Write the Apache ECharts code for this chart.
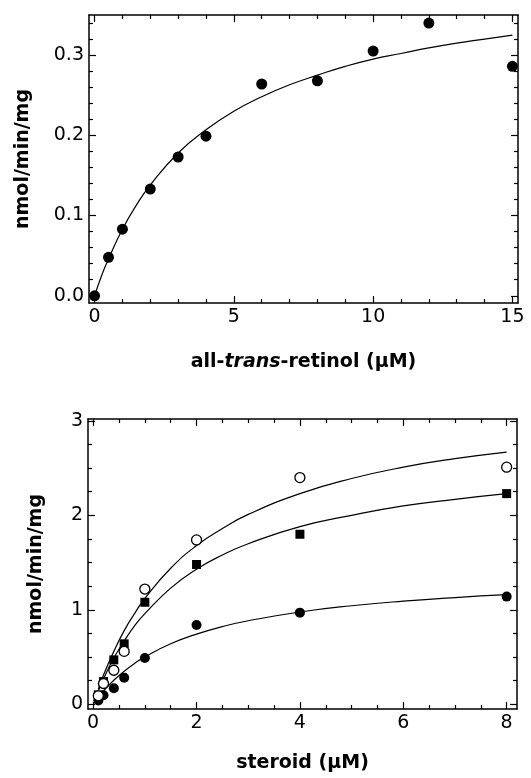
<!DOCTYPE html>
<html>

<head>
  <meta charset="utf-8" />
  <title></title>
  <script src="https://cdn.jsdelivr.net/npm/echarts@6/dist/echarts.min.js"></script>
  <style>
    body { margin: 0; background: #fff; }
  </style>
</head>

<body>
  <div id="main" style="width: 531px;height:778px;"></div>
  <script type="text/javascript">
    // top panel: all-trans-retinol
    var retinolX = [0, 0.5, 1, 2, 3, 4, 6, 8, 10, 12, 15];
    var retinolY = [0.0, 0.048, 0.083, 0.133, 0.173, 0.199, 0.264, 0.268, 0.305, 0.340, 0.286];
    var retinolFitX = [0, 0.25, 0.5, 1, 1.5, 2, 3, 4, 5, 6, 7, 8, 9, 10, 11, 12, 13, 14, 15];
    var retinolFitY = [0, 0.025, 0.046, 0.083, 0.113, 0.138, 0.178, 0.207, 0.230, 0.248, 0.263, 0.275, 0.286, 0.295, 0.302, 0.309, 0.315, 0.320, 0.325];

    // bottom panel: steroid
    var steroidX = [0.1, 0.2, 0.4, 0.6, 1, 2, 4, 8];
    var openCircleY = [0.09, 0.22, 0.36, 0.56, 1.22, 1.74, 2.40, 2.51];
    var squareY = [0.10, 0.24, 0.47, 0.64, 1.08, 1.48, 1.80, 2.23];
    var filledCircleY = [0.04, 0.095, 0.17, 0.28, 0.49, 0.84, 0.97, 1.14];
    var steroidFitX = [0.1, 0.2, 0.4, 0.6, 0.8, 1, 1.5, 2, 2.5, 3, 4, 5, 6, 7, 8];
    var openFitY = [0.16, 0.31, 0.56, 0.78, 0.96, 1.12, 1.44, 1.68, 1.86, 2.01, 2.23, 2.39, 2.51, 2.60, 2.67];
    var squareFitY = [0.14, 0.27, 0.49, 0.67, 0.83, 0.96, 1.23, 1.43, 1.58, 1.70, 1.88, 2.00, 2.10, 2.17, 2.23];
    var filledFitY = [0.073, 0.14, 0.254, 0.35, 0.432, 0.502, 0.64, 0.743, 0.822, 0.884, 0.977, 1.043, 1.092, 1.13, 1.16];

    // tick values
    var topMajorX = [0, 5, 10, 15];
    var topMinorX = [1, 2, 3, 4, 6, 7, 8, 9, 11, 12, 13, 14];
    var topMajorY = [0, 0.1, 0.2, 0.3];
    var topMinorY = [0.02, 0.04, 0.06, 0.08, 0.12, 0.14, 0.16, 0.18, 0.22, 0.24, 0.26, 0.28, 0.32, 0.34];
    var botMajorX = [0, 2, 4, 6, 8];
    var botMinorX = [0.5, 1, 1.5, 2.5, 3, 3.5, 4.5, 5, 5.5, 6.5, 7, 7.5];
    var botMajorY = [0, 1, 2, 3];
    var botMinorY = [0.25, 0.5, 0.75, 1.25, 1.5, 1.75, 2.25, 2.5, 2.75];

    var font = 'DejaVu Sans';

    function pair(list) {
      return list[0].map(function (x, i) { return [x, list[1][i]]; });
    }

    // one side of the frame: major ticks (+ labels on the main side) and minor ticks
    function sideAxes(grid, pos, min, max, major, minor, main, fmt, extra) {
      var base = {
        type: 'value', gridIndex: grid, position: pos, min: min, max: max,
        splitLine: { show: false }
      };
      var majorAxis = Object.assign({}, base, {
        axisLine: { show: true, onZero: false, lineStyle: { color: '#000', width: 1.5 } },
        axisTick: { show: true, inside: true, length: 7, customValues: major, lineStyle: { color: '#000', width: 1.2 } },
        axisLabel: {
          show: main, customValues: major, formatter: fmt, margin: 5,
          color: '#000', fontFamily: font, fontSize: 19
        }
      }, main ? extra : {});
      var minorAxis = Object.assign({}, base, {
        axisLine: { show: false, onZero: false },
        axisTick: { show: true, inside: true, length: 4, customValues: minor, lineStyle: { color: '#000', width: 1.2 } },
        axisLabel: { show: false }
      });
      return [majorAxis, minorAxis];
    }

    var nameStyle = {
      color: '#000', fontFamily: font, fontSize: 19, fontWeight: 'bold',
      rich: { i: { color: '#000', fontFamily: font, fontSize: 19, fontWeight: 'bold', fontStyle: 'italic' } }
    };

    var fmt1 = function (v) { return v.toFixed(1); };
    var fmt0 = function (v) { return String(v); };

    var xAxes = [].concat(
      sideAxes(0, 'bottom', -0.2, 15.2, topMajorX, topMinorX, true, fmt0,
        { name: 'all-{i|trans}-retinol (μM)', nameLocation: 'middle', nameGap: 50, nameTextStyle: nameStyle }),
      sideAxes(0, 'top', -0.2, 15.2, topMajorX, topMinorX, false, fmt0),
      sideAxes(1, 'bottom', -0.1, 8.2, botMajorX, botMinorX, true, fmt0,
        { name: 'steroid (μM)', nameLocation: 'middle', nameGap: 45, nameTextStyle: nameStyle }),
      sideAxes(1, 'top', -0.1, 8.2, botMajorX, botMinorX, false, fmt0)
    );
    var yAxes = [].concat(
      sideAxes(0, 'left', -0.009, 0.35, topMajorY, topMinorY, true, fmt1,
        { name: 'nmol/min/mg', nameLocation: 'middle', nameGap: 56, nameTextStyle: nameStyle }),
      sideAxes(0, 'right', -0.009, 0.35, topMajorY, topMinorY, false, fmt1),
      sideAxes(1, 'left', -0.05, 3.02, botMajorY, botMinorY, true, fmt0,
        { name: 'nmol/min/mg', nameLocation: 'middle', nameGap: 42, nameTextStyle: nameStyle }),
      sideAxes(1, 'right', -0.05, 3.02, botMajorY, botMinorY, false, fmt0)
    );

    var lineStyle = { color: '#000', width: 1.2 };
    function fitLine(xi, yi, data) {
      return {
        type: 'line', xAxisIndex: xi, yAxisIndex: yi, data: data, smooth: true,
        showSymbol: false, lineStyle: lineStyle, silent: true, z: 1
      };
    }
    function dots(xi, yi, data, symbol, size, open) {
      return {
        type: 'scatter', xAxisIndex: xi, yAxisIndex: yi, data: data, symbol: symbol,
        symbolSize: size, clip: false, z: 3,
        itemStyle: open
          ? { color: '#fff', borderColor: '#000', borderWidth: 1.3, opacity: 1 }
          : { color: '#000', opacity: 1 }
      };
    }

    var chart = echarts.init(document.getElementById('main'));
    var option = {
      animation: false,
      backgroundColor: '#fff',
      grid: [
        { left: 89, top: 15, width: 429, height: 288 },
        { left: 88, top: 419, width: 429, height: 290 }
      ],
      xAxis: xAxes,
      yAxis: yAxes,
      series: [
        fitLine(0, 0, pair([retinolFitX, retinolFitY])),
        dots(0, 0, pair([retinolX, retinolY]), 'circle', 11, false),
        fitLine(4, 4, pair([steroidFitX, openFitY])),
        fitLine(4, 4, pair([steroidFitX, squareFitY])),
        fitLine(4, 4, pair([steroidFitX, filledFitY])),
        dots(4, 4, pair([steroidX, filledCircleY]), 'circle', 10, false),
        dots(4, 4, pair([steroidX, squareY]), 'rect', 9, false),
        dots(4, 4, pair([steroidX, openCircleY]), 'circle', 10, true)
      ]
    };
    chart.setOption(option);

    window.onresize = function () {
      chart.resize();
    };
  </script>
</body>

</html>
